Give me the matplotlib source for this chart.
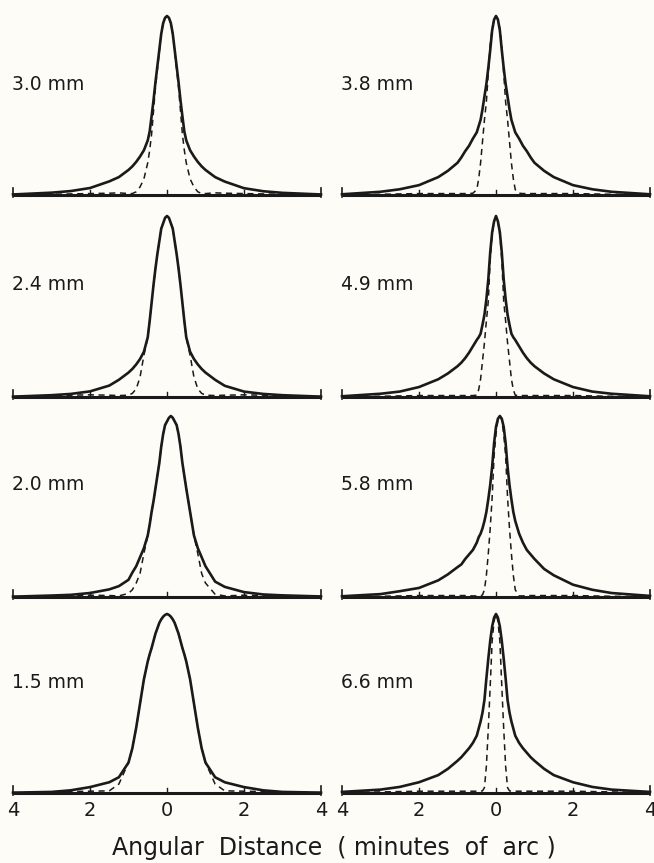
import matplotlib
matplotlib.use("Agg")
import matplotlib.pyplot as plt

# angular distance grid (minutes of arc), shared by all curves
x_arc = [-4, -3, -2.5, -2, -1.5, -1.25, -1, -0.9, -0.8, -0.7, -0.6, -0.5, -0.45, -0.4,
         -0.35, -0.3, -0.25, -0.2, -0.15, -0.1, -0.05, 0, 0.05, 0.1, 0.15, 0.2, 0.25,
         0.3, 0.35, 0.4, 0.45, 0.5, 0.6, 0.7, 0.8, 0.9, 1, 1.25, 1.5, 2, 2.5, 3, 4]

# pupil diameters, left column then right column, top to bottom
pupils_left = ["3.0 mm", "2.4 mm", "2.0 mm", "1.5 mm"]
pupils_right = ["3.8 mm", "4.9 mm", "5.8 mm", "6.6 mm"]

# measured line spread (solid), normalised to peak
measured = {
    "3.0 mm": [0.003, 0.013, 0.022, 0.039, 0.076, 0.1, 0.14, 0.16, 0.185, 0.215, 0.25, 0.305,
               0.355, 0.44, 0.53, 0.63, 0.72, 0.81, 0.9, 0.96, 0.99, 1.0, 0.99, 0.96,
               0.9, 0.81, 0.72, 0.63, 0.53, 0.44, 0.355, 0.305, 0.25, 0.215, 0.185, 0.16,
               0.14, 0.1, 0.075, 0.038, 0.021, 0.012, 0.003],
    "2.4 mm": [0.002, 0.01, 0.017, 0.031, 0.063, 0.095, 0.135, 0.155, 0.18, 0.21, 0.25, 0.33,
               0.42, 0.52, 0.62, 0.71, 0.79, 0.86, 0.93, 0.96, 0.99, 1.0, 0.99, 0.96,
               0.93, 0.86, 0.79, 0.71, 0.62, 0.52, 0.42, 0.33, 0.25, 0.21, 0.18, 0.155,
               0.135, 0.095, 0.062, 0.03, 0.017, 0.01, 0.002],
    "2.0 mm": [0.002, 0.008, 0.012, 0.022, 0.042, 0.06, 0.095, 0.135, 0.17, 0.22, 0.27, 0.34,
               0.4, 0.47, 0.53, 0.6, 0.67, 0.74, 0.83, 0.9, 0.95, 0.97, 0.99, 1.0,
               0.99, 0.97, 0.95, 0.9, 0.83, 0.74, 0.67, 0.6, 0.47, 0.34, 0.27, 0.22,
               0.17, 0.085, 0.056, 0.027, 0.014, 0.009, 0.003],
    "1.5 mm": [0.002, 0.006, 0.015, 0.033, 0.06, 0.088, 0.17, 0.25, 0.365, 0.5, 0.635, 0.735,
               0.775, 0.81, 0.85, 0.89, 0.92, 0.95, 0.97, 0.985, 0.995, 1.0, 0.995, 0.985,
               0.97, 0.95, 0.92, 0.89, 0.85, 0.81, 0.775, 0.735, 0.635, 0.5, 0.365, 0.25,
               0.17, 0.088, 0.06, 0.033, 0.015, 0.006, 0.002],
    "3.8 mm": [0.004, 0.018, 0.032, 0.055, 0.1, 0.135, 0.18, 0.21, 0.245, 0.275, 0.315, 0.35,
               0.385, 0.42, 0.48, 0.55, 0.62, 0.71, 0.81, 0.92, 0.98, 1.0, 0.98, 0.92,
               0.81, 0.71, 0.62, 0.55, 0.48, 0.42, 0.385, 0.35, 0.315, 0.275, 0.245, 0.21,
               0.18, 0.135, 0.1, 0.055, 0.032, 0.018, 0.004],
    "4.9 mm": [0.004, 0.018, 0.03, 0.055, 0.098, 0.13, 0.17, 0.19, 0.215, 0.245, 0.28, 0.315,
               0.33, 0.35, 0.4, 0.455, 0.54, 0.65, 0.8, 0.91, 0.97, 1.0, 0.97, 0.91,
               0.8, 0.65, 0.54, 0.455, 0.4, 0.35, 0.33, 0.315, 0.28, 0.245, 0.215, 0.19,
               0.17, 0.13, 0.098, 0.055, 0.03, 0.018, 0.004],
    "5.8 mm": [0.004, 0.016, 0.032, 0.05, 0.092, 0.125, 0.165, 0.18, 0.21, 0.235, 0.26, 0.3,
               0.33, 0.35, 0.38, 0.42, 0.47, 0.54, 0.62, 0.72, 0.85, 0.94, 0.985, 1.0,
               0.985, 0.94, 0.85, 0.72, 0.62, 0.54, 0.47, 0.42, 0.35, 0.3, 0.26, 0.235,
               0.21, 0.155, 0.12, 0.068, 0.04, 0.022, 0.006],
    "6.6 mm": [0.006, 0.019, 0.034, 0.06, 0.1, 0.135, 0.18, 0.2, 0.225, 0.25, 0.28, 0.32,
               0.36, 0.4, 0.45, 0.52, 0.64, 0.75, 0.85, 0.93, 0.98, 1.0, 0.98, 0.93,
               0.85, 0.75, 0.64, 0.52, 0.45, 0.4, 0.36, 0.32, 0.28, 0.25, 0.225, 0.2,
               0.18, 0.135, 0.1, 0.06, 0.034, 0.019, 0.006],
}

# diffraction-limited line spread (dashed) for the same pupils
diffraction = {
    "3.0 mm": [0.002, 0.004, 0.006, 0.008, 0.01, 0.012, 0.008, 0.008, 0.018, 0.045, 0.09, 0.18,
               0.25, 0.34, 0.47, 0.6, 0.7, 0.8, 0.9, 0.96, 0.99, 1.0, 0.99, 0.96,
               0.9, 0.8, 0.7, 0.6, 0.47, 0.34, 0.25, 0.18, 0.09, 0.045, 0.018, 0.008,
               0.008, 0.012, 0.01, 0.008, 0.006, 0.004, 0.002],
    "2.4 mm": [0.002, 0.006, 0.01, 0.012, 0.01, 0.008, 0.01, 0.02, 0.045, 0.11, 0.23, 0.33,
               0.42, 0.52, 0.62, 0.71, 0.79, 0.86, 0.93, 0.96, 0.99, 1.0, 0.99, 0.96,
               0.93, 0.86, 0.79, 0.71, 0.62, 0.52, 0.42, 0.33, 0.23, 0.11, 0.045, 0.02,
               0.01, 0.008, 0.01, 0.012, 0.01, 0.006, 0.002],
    "2.0 mm": [0.002, 0.004, 0.008, 0.01, 0.008, 0.006, 0.02, 0.04, 0.077, 0.13, 0.24, 0.34,
               0.4, 0.47, 0.53, 0.6, 0.67, 0.74, 0.83, 0.9, 0.95, 0.97, 0.99, 1.0,
               0.99, 0.97, 0.95, 0.9, 0.83, 0.74, 0.67, 0.6, 0.47, 0.34, 0.24, 0.13,
               0.077, 0.015, 0.006, 0.01, 0.008, 0.005, 0.002],
    "1.5 mm": [0.002, 0.004, 0.008, 0.01, 0.012, 0.05, 0.17, 0.25, 0.365, 0.5, 0.635, 0.735,
               0.775, 0.81, 0.85, 0.89, 0.92, 0.95, 0.97, 0.985, 0.995, 1.0, 0.995, 0.985,
               0.97, 0.95, 0.92, 0.89, 0.85, 0.81, 0.775, 0.735, 0.635, 0.5, 0.365, 0.25,
               0.17, 0.05, 0.012, 0.01, 0.008, 0.004, 0.002],
    "3.8 mm": [0.002, 0.004, 0.006, 0.008, 0.008, 0.008, 0.008, 0.008, 0.008, 0.008, 0.01, 0.03,
               0.09, 0.18, 0.3, 0.42, 0.52, 0.68, 0.84, 0.93, 0.98, 1.0, 0.98, 0.93,
               0.84, 0.68, 0.52, 0.42, 0.3, 0.18, 0.09, 0.03, 0.01, 0.008, 0.008, 0.008,
               0.008, 0.008, 0.008, 0.008, 0.006, 0.004, 0.002],
    "4.9 mm": [0.002, 0.004, 0.006, 0.008, 0.008, 0.008, 0.008, 0.008, 0.008, 0.008, 0.008, 0.01,
               0.04, 0.1, 0.2, 0.3, 0.42, 0.53, 0.76, 0.9, 0.97, 1.0, 0.97, 0.9,
               0.76, 0.53, 0.42, 0.3, 0.2, 0.1, 0.04, 0.01, 0.008, 0.008, 0.008, 0.008,
               0.008, 0.008, 0.008, 0.008, 0.006, 0.004, 0.002],
    "5.8 mm": [0.002, 0.004, 0.006, 0.008, 0.008, 0.008, 0.008, 0.008, 0.008, 0.007, 0.006, 0.006,
               0.006, 0.006, 0.012, 0.04, 0.12, 0.24, 0.38, 0.55, 0.78, 0.9, 0.98, 1.0,
               0.98, 0.9, 0.78, 0.55, 0.38, 0.24, 0.12, 0.04, 0.006, 0.006, 0.008, 0.008,
               0.008, 0.008, 0.008, 0.008, 0.006, 0.004, 0.002],
    "6.6 mm": [0.003, 0.006, 0.008, 0.01, 0.01, 0.01, 0.01, 0.01, 0.01, 0.01, 0.01, 0.01,
               0.01, 0.01, 0.012, 0.03, 0.15, 0.36, 0.6, 0.85, 0.96, 1.0, 0.96, 0.85,
               0.6, 0.36, 0.15, 0.03, 0.012, 0.01, 0.01, 0.01, 0.01, 0.01, 0.01, 0.01,
               0.01, 0.01, 0.01, 0.01, 0.008, 0.006, 0.003],
}

tick_pos = [-4, -2, 0, 2, 4]
tick_text = ["4", "2", "0", "2", "4"]

W, H = 654, 863
bg = "#fdfcf6"
ink = "#1a1a1a"

fig = plt.figure(figsize=(W / 100, H / 100), dpi=100, facecolor=bg)

# panel boxes in pixels: (x of -4, x of +4) and (baseline y, peak y)
cols = [(13, 321), (342, 650)]
rows = [(195, 16), (397, 216), (597, 416), (793, 614)]


def draw_panel(ax, label, bottom_row):
    ax.set_facecolor("none")
    ax.plot(x_arc, measured[label], color=ink, lw=1.9, clip_on=False,
            solid_joinstyle="round", zorder=3)
    ax.plot(x_arc, diffraction[label], color=ink, lw=1.1, clip_on=False,
            dashes=(4, 3), zorder=2)
    # thick baseline with end bars and small ticks
    ax.plot([-4, 4], [0, 0], color=ink, lw=2.2, clip_on=False, solid_capstyle="butt")
    for t in (-4, 4):
        ax.plot([t, t], [-0.012, 0.04], color=ink, lw=1.2, clip_on=False)
    for t in (-2, 0, 2):
        ax.plot([t, t], [0, 0.03], color=ink, lw=1.0, clip_on=False)
    ax.text(-4.02, 0.62, label, fontsize=13.5, color=ink, ha="left", va="center")
    ax.set_xlim(-4, 4)
    ax.set_ylim(0, 1)
    for s in ax.spines.values():
        s.set_visible(False)
    ax.set_yticks([])
    if bottom_row:
        ax.set_xticks(tick_pos, tick_text)
        ax.tick_params(axis="x", length=0, pad=6, labelsize=14, labelcolor=ink)
    else:
        ax.set_xticks([])


for c, names in enumerate([pupils_left, pupils_right]):
    x0, x1 = cols[c]
    for r, name in enumerate(names):
        yb, yt = rows[r]
        ax = fig.add_axes([x0 / W, 1 - yb / H, (x1 - x0) / W, (yb - yt) / H])
        draw_panel(ax, name, r == len(rows) - 1)

fig.text(0.51, 1 - 848 / H, "Angular  Distance  ( minutes  of  arc )",
         fontsize=17, color=ink, ha="center", va="center")

fig.savefig("out.png", dpi=100, facecolor=bg)
